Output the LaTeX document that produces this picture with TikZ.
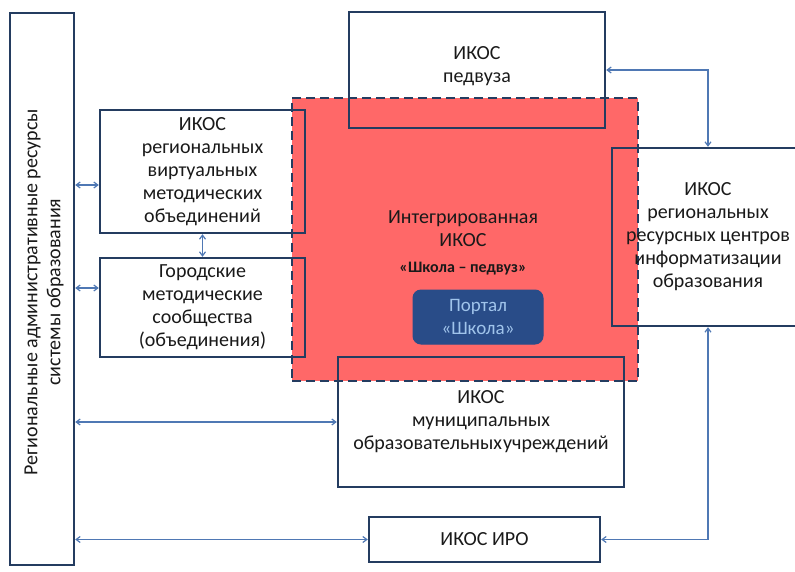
\documentclass[tikz,border=0pt]{standalone}
\usepackage{fontspec}
\setmainfont{Carlito}
\usetikzlibrary{arrows.meta}
\definecolor{boxline}{RGB}{36,60,96}
\definecolor{arrline}{RGB}{79,120,180}
\definecolor{redfill}{RGB}{255,104,104}
\definecolor{portfill}{RGB}{41,76,136}
\definecolor{porttext}{RGB}{160,196,235}
\tikzset{
  txt/.style={align=center, font=\fontsize{20}{23}\selectfont, text=black!90},
  box/.style={txt, draw=boxline, line width=2.4pt, rectangle, inner sep=0pt},
  arr/.style={draw=arrline, line width=1.2pt, {Straight Barb[length=4pt,width=6pt]}-{Straight Barb[length=4pt,width=6pt]}}
}
\begin{document}
\begin{tikzpicture}[x=1pt,y=-1pt]
  \useasboundingbox (0,0) rectangle (795,571);
  % integrated area
  \node[draw=boxline, fill=redfill, line width=2.4pt, dash pattern=on 9pt off 5pt,
    minimum width=346pt, minimum height=283pt] (integ) at (465,239.5) {};
  \node[txt] (integtxt) at (463,243)
    {Интегрированная\\ИКОС\\[3pt]{\fontsize{16}{18}\selectfont\bfseries «Школа – педвуз»}};
  \node[draw=portfill, fill=portfill, rounded corners=8pt, line width=1pt,
    minimum width=130pt, minimum height=54pt, txt, text=porttext,
    font=\fontsize{19}{23}\selectfont] (portal) at (478,317) {Портал\\«Школа»};
  % boxes
  \node[box, minimum width=64pt, minimum height=552pt] (adm) at (42,289) {};
  \node[txt, rotate=90] (admtxt) at (44,292)
    {Региональные административные ресурсы\\системы образования};
  \node[box, minimum width=205pt, minimum height=123pt] (virt) at (202.5,171.5)
    {ИКОС\\региональных\\виртуальных\\методических\\объединений};
  \node[box, minimum width=205pt, minimum height=99pt] (gor) at (202.5,307.5)
    {Городские\\методические\\сообщества\\(объединения)};
  \node[box, minimum width=256pt, minimum height=116pt, text depth=10pt] (ped) at (477,70)
    {ИКОС\\педвуза};
  \node[box, minimum width=192pt, minimum height=178pt] (reg) at (708,237)
    {ИКОС\\региональных\\ресурсных центров\\информатизации\\образования};
  \node[box, minimum width=286pt, minimum height=130pt] (mun) at (481,422)
    {ИКОС\\муниципальных\\образовательных\hspace{1pt}учреждений};
  \node[box, minimum width=231pt, minimum height=45pt] (iro) at (484.5,539.5)
    {ИКОС ИРО};
  % connectors
  \coordinate (v1) at ([yshift=-13.5pt]virt.west);
  \coordinate (g1) at ([yshift=19.5pt]gor.west);
  \draw[arr] (v1 -| adm.east) -- (v1);
  \draw[arr] (g1 -| adm.east) -- (g1);
  \draw[arr] (virt.south) -- (gor.north);
  \draw[arr] (mun.west -| adm.east) -- (mun.west);
  \draw[arr] (iro.west -| adm.east) -- (iro.west);
  \draw[arr] (ped.east) -| (reg.north);
  \draw[arr] (iro.east) -| (reg.south);
\end{tikzpicture}
\end{document}
